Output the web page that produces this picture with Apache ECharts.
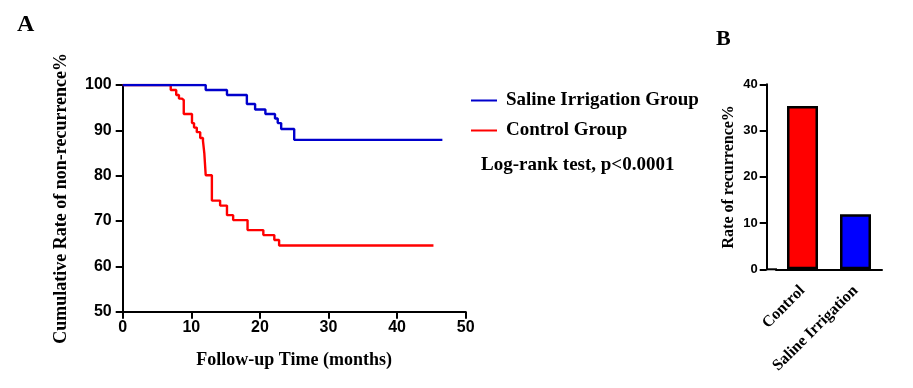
<!DOCTYPE html>
<html><head><meta charset="utf-8">
<script src="https://cdn.jsdelivr.net/npm/echarts@6/dist/echarts.min.js"></script>
<style>html,body{margin:0;padding:0;background:#fff}#c{width:913px;height:388px}</style>
</head><body><div id="c"></div>
<script>
// Kaplan-Meier data (months, % non-recurrence)
const salineTimes = [0, 12.1, 15.2, 18.1, 19.3, 20.8, 22.2, 22.6, 23.1, 25.0, 46.6];
const salineSurv  = [100, 98.9, 97.8, 95.8, 94.6, 93.6, 92.6, 91.6, 90.3, 87.9, 87.9];
const controlTimes = [0, 7.0, 7.8, 8.2, 8.6, 8.9, 10.1, 10.4, 10.8, 11.3, 11.7, 11.9, 12.1, 13.0, 14.2, 15.2, 16.1, 18.2, 20.5, 22.1, 22.8, 45.3];
const controlSurv  = [100, 98.9, 97.8, 97.0, 96.7, 93.6, 91.6, 90.6, 89.6, 88.3, 87.7, 84.9, 80.1, 74.5, 73.4, 71.3, 70.2, 68.0, 66.9, 65.8, 64.6, 64.6];
const kmXTicks = [0, 10, 20, 30, 40, 50];
const kmYTicks = [50, 60, 70, 80, 90, 100];
// Bar chart data
const barCategories = ['Control', 'Saline Irrigation'];
const barValues = [35.3, 11.9];
const barColors = ['#ff0000', '#0000ff'];

const serif = 'Liberation Serif';
const sans = 'Liberation Sans';
const chart = echarts.init(document.getElementById('c'));
const pairs = (t, v) => t.map((x, i) => [x, v[i]]);

chart.setOption({
  animation: false,
  backgroundColor: '#fff',
  title: [
    {text: 'A', left: 17, top: 13, padding: 0, textStyle: {fontFamily: serif, fontWeight: 'bold', fontSize: 24, color: '#000'}},
    {text: 'B', left: 716, top: 28, padding: 0, textStyle: {fontFamily: serif, fontWeight: 'bold', fontSize: 22, color: '#000'}},
    {text: 'Log-rank test, p<0.0001', left: 481, top: 156, padding: 0, textStyle: {fontFamily: serif, fontWeight: 'bold', fontSize: 19, color: '#000'}}
  ],
  legend: {
    orient: 'vertical', left: 466, top: 86, itemWidth: 26, itemHeight: 2, itemGap: 11,
    icon: 'rect',
    data: ['Saline Irrigation Group', 'Control Group'],
    textStyle: {fontFamily: serif, fontWeight: 'bold', fontSize: 19, color: '#000', lineHeight: 19, padding: [0, 0, 0, 4]}
  },
  grid: [
    {left: 122.7, top: 85, width: 343, height: 226.7},
    {left: 776, top: 84.3, width: 106, height: 185}
  ],
  xAxis: [
    {gridIndex: 0, type: 'value', min: 0, max: 50, interval: 10,
      name: 'Follow-up Time (months)', nameLocation: 'middle', nameGap: 40,
      nameTextStyle: {fontFamily: serif, fontWeight: 'bold', fontSize: 18, color: '#000'},
      axisLine: {lineStyle: {color: '#000', width: 2}},
      axisTick: {length: 7, lineStyle: {color: '#000', width: 2}},
      axisLabel: {margin: 8, fontFamily: sans, fontWeight: 'bold', fontSize: 16, color: '#000',
        customValues: kmXTicks},
      splitLine: {show: false}},
    {gridIndex: 1, type: 'category', data: barCategories,
      axisLine: {lineStyle: {color: '#000', width: 2}},
      axisTick: {alignWithLabel: true, length: 8, lineStyle: {color: '#000', width: 2}},
      axisLabel: {rotate: 45, margin: 19, fontFamily: serif, fontWeight: 'bold', fontSize: 16, color: '#000'}}
  ],
  yAxis: [
    {gridIndex: 0, type: 'value', min: 50, max: 100, interval: 10,
      name: 'Cumulative Rate of non-recurrence%', nameLocation: 'middle', nameGap: 52,
      nameTextStyle: {fontFamily: serif, fontWeight: 'bold', fontSize: 18, color: '#000'},
      axisLine: {show: true, lineStyle: {color: '#000', width: 2}},
      axisTick: {show: true, length: 7, lineStyle: {color: '#000', width: 2}},
      axisLabel: {margin: 11, fontFamily: sans, fontWeight: 'bold', fontSize: 16, color: '#000',
        customValues: kmYTicks},
      splitLine: {show: false}},
    {gridIndex: 1, type: 'value', min: 0, max: 40, interval: 10, offset: 9.3,
      name: 'Rate of recurrence%', nameLocation: 'middle', nameGap: 30,
      nameTextStyle: {fontFamily: serif, fontWeight: 'bold', fontSize: 16, color: '#000'},
      axisLine: {show: true, lineStyle: {color: '#000', width: 2}},
      axisTick: {show: true, length: 7, lineStyle: {color: '#000', width: 2}},
      axisLabel: {margin: 9, fontFamily: sans, fontWeight: 'bold', fontSize: 13, color: '#000'},
      splitLine: {show: false}}
  ],
  graphic: [
    {type: 'line', shape: {x1: 766.7, y1: 269.3, x2: 777, y2: 269.3}, style: {stroke: '#000', lineWidth: 2}, silent: true}
  ],
  series: [
    {name: 'Saline Irrigation Group', type: 'line', xAxisIndex: 0, yAxisIndex: 0, step: 'end',
      data: pairs(salineTimes, salineSurv), symbol: 'none', color: '#0000cc',
      lineStyle: {color: '#0000cc', width: 2.4}, z: 3},
    {name: 'Control Group', type: 'line', xAxisIndex: 0, yAxisIndex: 0, step: 'end',
      data: pairs(controlTimes, controlSurv), symbol: 'none', color: '#ff0000',
      lineStyle: {color: '#ff0000', width: 2.4}, z: 2},
    {name: 'Rate', type: 'bar', xAxisIndex: 1, yAxisIndex: 1, barWidth: 31,
      data: barValues.map((v, i) => ({value: v, itemStyle: {color: barColors[i]}})),
      itemStyle: {borderColor: '#000', borderWidth: 2.5}}
  ]
});
</script>
</body></html>
